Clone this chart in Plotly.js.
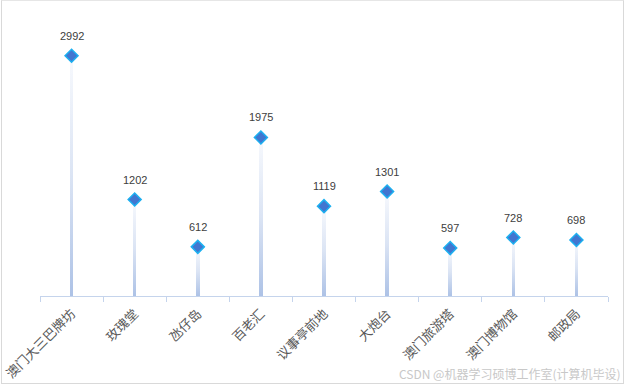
<!DOCTYPE html>
<html>
<head>
<meta charset="utf-8">
<script src="https://cdn.plot.ly/plotly-3.0.1.min.js"></script>
<style>
  html, body { margin: 0; padding: 0; background: #fff; }
  #wrap { position: relative; width: 624px; height: 387px; overflow: hidden; }
  #chart { position: absolute; left: 0; top: 0; width: 624px; height: 387px; }
  #frame { position: absolute; left: 1px; top: 0px; width: 623px; height: 384px; box-sizing: border-box;
           border: 1px solid #d9d9d9; border-top-color: #e6e6e6; pointer-events: none; }
</style>
</head>
<body>
<div id="wrap">
  <div id="chart"></div>
  <div id="frame"></div>
</div>
<script>
const categories = ['澳门大三巴牌坊', '玫瑰堂', '氹仔岛', '百老汇', '议事亭前地', '大炮台', '澳门旅游塔', '澳门博物馆', '邮政局'];
const values = [2992, 1202, 612, 1975, 1119, 1301, 597, 728, 698];

const stems = {
  type: 'bar',
  x: categories,
  y: values,
  width: 0.055,
  marker: { color: '#c9d6ee', line: { width: 0 } },
  hoverinfo: 'skip',
  showlegend: false
};

const points = {
  type: 'scatter',
  mode: 'markers',
  x: categories,
  y: values,
  marker: { symbol: 'diamond', size: 10, color: '#4176d0', line: { color: '#1cb0f0', width: 1.5 } },
  showlegend: false
};

const valueLabels = categories.map((c, i) => ({
  x: c, y: values[i], xref: 'x', yref: 'y',
  text: String(values[i]), showarrow: false, yshift: 20,
  font: { family: 'Liberation Sans, Arial, sans-serif', size: 11, color: '#404040' }
}));

const layout = {
  width: 624, height: 387,
  margin: { l: 40, r: 16, t: 15, b: 91 },
  paper_bgcolor: 'rgba(0,0,0,0)',
  plot_bgcolor: 'rgba(0,0,0,0)',
  bargap: 0,
  xaxis: {
    type: 'category',
    range: [-0.5, categories.length - 0.5],
    showgrid: false, zeroline: false,
    showline: true, linecolor: '#c5d4ec', linewidth: 1,
    ticks: 'outside', tickson: 'boundaries', ticklen: 5, tickcolor: '#c5d4ec', tickwidth: 1,
    tickangle: -45,
    ticklabelstandoff: 4,
    tickfont: { family: 'Noto Sans CJK SC, sans-serif', size: 13, color: '#595959' },
    automargin: false
  },
  yaxis: {
    range: [0, 3500],
    visible: false, showgrid: false, zeroline: false, fixedrange: true
  },
  annotations: valueLabels.concat([{
    xref: 'paper', yref: 'paper', x: 1.027, y: -0.276, xanchor: 'right', yanchor: 'middle',
    text: 'CSDN @机器学习硕博工作室(计算机毕设)', showarrow: false,
    font: { family: 'Noto Sans CJK SC, sans-serif', size: 12, color: '#c8c8c8' }
  }])
};

Plotly.newPlot('chart', [stems, points], layout, { displayModeBar: false, staticPlot: true }).then(gd => {
  const svg = gd.querySelector('svg.main-svg');
  const ns = 'http://www.w3.org/2000/svg';
  let defs = svg.querySelector('defs');
  if (!defs) { defs = document.createElementNS(ns, 'defs'); svg.insertBefore(defs, svg.firstChild); }
  const lg = document.createElementNS(ns, 'linearGradient');
  lg.setAttribute('id', 'stemGrad');
  lg.setAttribute('x1', '0'); lg.setAttribute('y1', '0');
  lg.setAttribute('x2', '0'); lg.setAttribute('y2', '1');
  [['0', '#f7f9fd'], ['0.5', '#dbe4f4'], ['1', '#adc2e6']].forEach(([o, c]) => {
    const s = document.createElementNS(ns, 'stop');
    s.setAttribute('offset', o); s.setAttribute('stop-color', c);
    lg.appendChild(s);
  });
  defs.appendChild(lg);
  gd.querySelectorAll('.barlayer .point path').forEach(p => { p.style.fill = 'url(#stemGrad)'; });
});
</script>
</body>
</html>
